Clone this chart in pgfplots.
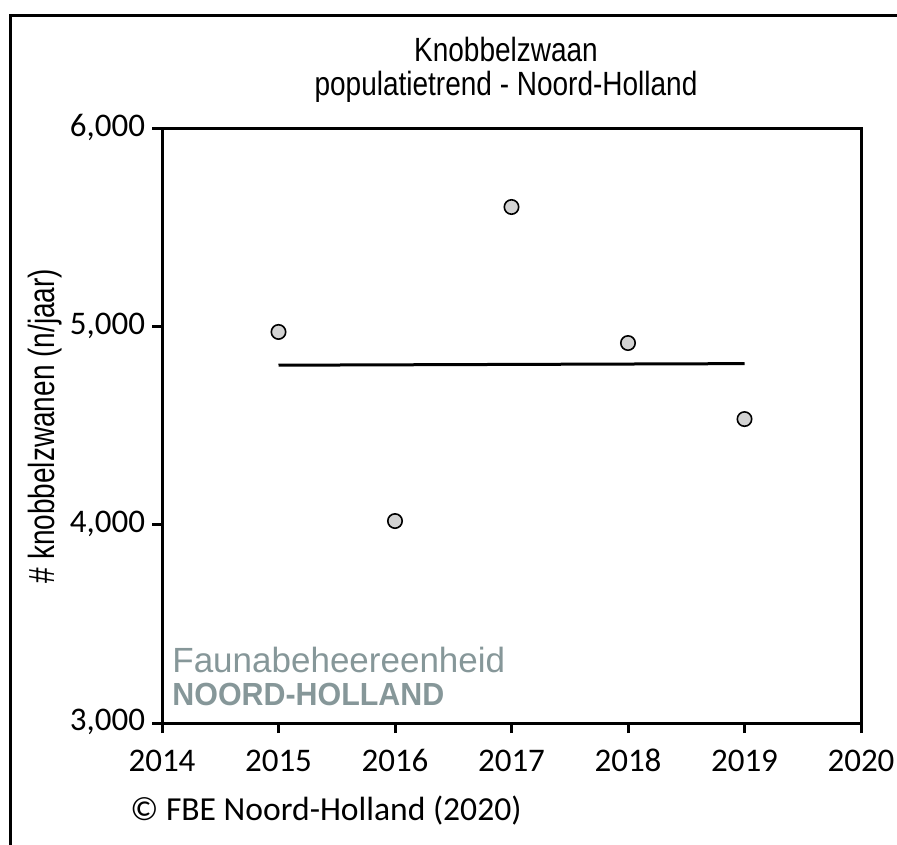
\documentclass[border=0pt]{standalone}
\usepackage{fontspec}
\setmainfont{Carlito}
\newfontfamily\arial{Liberation Sans}
\usepackage{pgfplots}
\pgfplotsset{compat=1.18}
\definecolor{markgrey}{RGB}{211,211,211}
\definecolor{logogrey}{RGB}{134,151,153}

\begin{document}
\begin{tikzpicture}
% page = 897 x 844 px, 1 px = 0.5 pt
\path[use as bounding box] (0,0) rectangle (448.5pt,422pt);
\draw[line width=1.5pt] (5pt,-10pt) -- (5pt,414pt) -- (470pt,414pt);

\begin{axis}[
  at={(81pt,60.5pt)}, anchor=south west,
  scale only axis, width=349.5pt, height=297pt,
  xmin=2014, xmax=2020, ymin=3000, ymax=6000,
  xtick={2014,2015,2016,2017,2018,2019,2020},
  ytick={3000,4000,5000,6000},
  xtick pos=bottom, ytick pos=left, tick align=outside,
  major tick length=5pt,
  axis line style={line width=1.5pt},
  tick style={line width=1.5pt, black},
  /pgf/number format/assume math mode=true,
  typeset ticklabels with strut,
  yticklabel style={/pgf/number format/1000 sep={,}, font=\fontsize{16.5pt}{18pt}\selectfont},
  xticklabel style={/pgf/number format/1000 sep={}, font=\fontsize{16.5pt}{18pt}\selectfont, yshift=-3pt},
  ylabel={\scalebox{1}[1.3]{\# knobbelzwanen (n/jaar)}},
  ylabel style={at={(axis description cs:-0.167,0.5)}, anchor=center,
    font=\arial\fontsize{14pt}{16pt}\selectfont},
  clip=false,
]
\addplot[only marks, mark=*, mark size=3.6pt,
  mark options={fill=markgrey, draw=black, line width=0.8pt}]
  coordinates {(2015,4975) (2016,4020) (2017,5606) (2018,4919) (2019,4535)};
\addplot[black, line width=1.5pt, no marks]
  coordinates {(2015,4807) (2019,4815)};
\end{axis}

\node[anchor=base, font=\arial\fontsize{14pt}{16pt}\selectfont] at (253pt,391pt) {\scalebox{1}[1.2]{Knobbelzwaan}};
\node[anchor=base, font=\arial\fontsize{14pt}{16pt}\selectfont] at (253pt,374pt) {\scalebox{1}[1.2]{populatietrend - Noord-Holland}};

\node[anchor=base west, inner sep=0pt, text=logogrey, font=\arial\fontsize{17.5pt}{19pt}\selectfont]
  at (86pt,85.5pt) {Faunabeheereenheid};
\node[anchor=base west, inner sep=0pt, text=logogrey, font=\arial\bfseries\fontsize{16pt}{18pt}\selectfont]
  at (86pt,69pt) {\scalebox{0.95}[1]{NOORD-HOLLAND}};

\node[anchor=base west, inner sep=0pt, font=\fontsize{16.8pt}{19pt}\selectfont]
  at (65pt,12pt) {© FBE Noord-Holland (2020)};
\end{tikzpicture}
\end{document}
